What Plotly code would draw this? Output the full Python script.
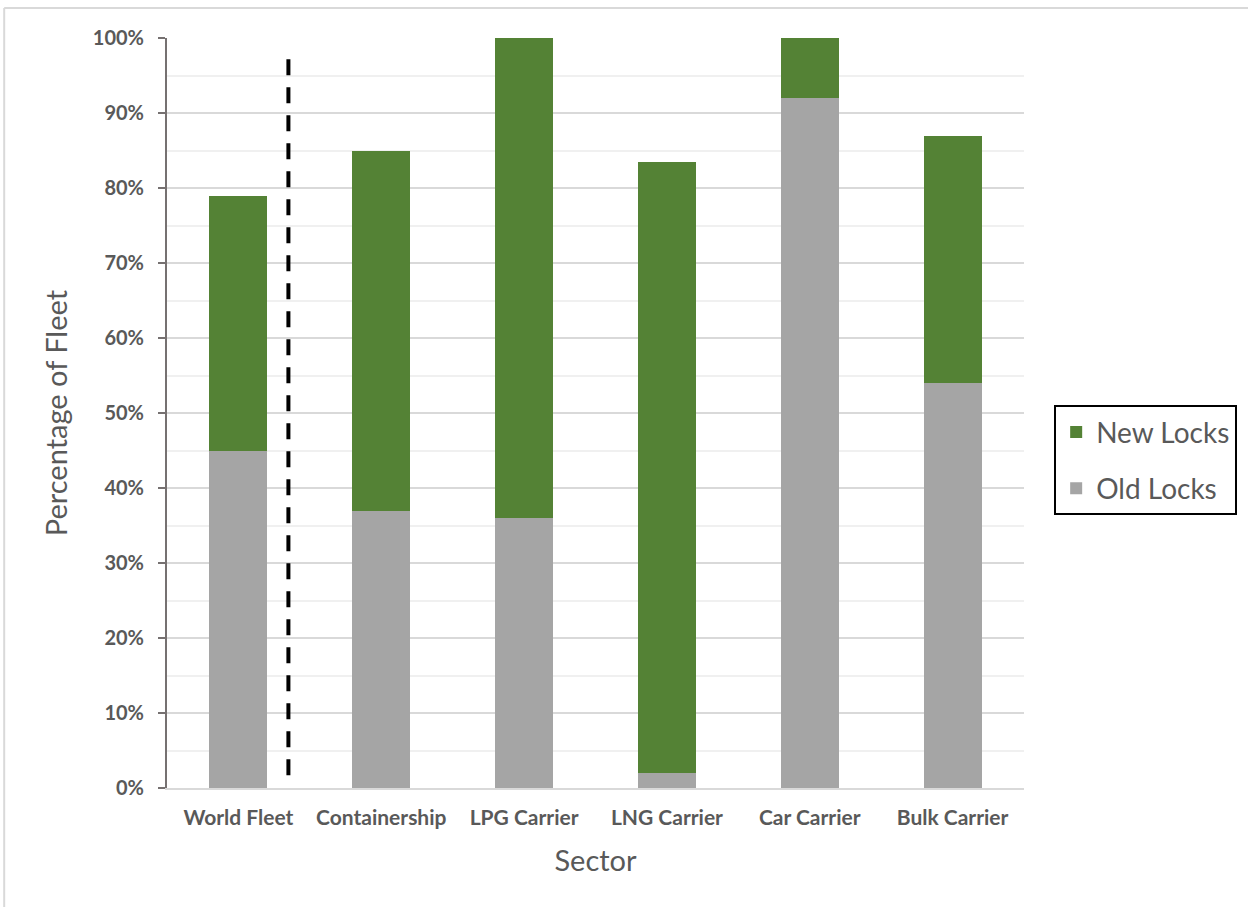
import plotly.graph_objects as go

categories = ["World Fleet", "Containership", "LPG Carrier", "LNG Carrier", "Car Carrier", "Bulk Carrier"]
old_locks = [45, 37, 36, 2, 92, 54]
new_locks = [34, 48, 64, 81.5, 8, 33]
y_ticks = list(range(0, 101, 10))
y_tick_labels = [f"{v}%" for v in y_ticks]

GREEN = "#548235"
GRAY = "#A5A5A5"
TEXT = "#595959"
FONT = "Lato"

fig = go.Figure()
fig.add_trace(go.Bar(x=categories, y=old_locks, name="Old Locks", marker_color=GRAY,
                     marker_line_width=0, legendgroup="old", legendrank=2))
fig.add_trace(go.Bar(x=categories, y=new_locks, name="New Locks", marker_color=GREEN,
                     marker_line_width=0, legendgroup="new", legendrank=1))

fig.update_layout(
    barmode="stack",
    bargap=0.595,
    width=1248, height=907,
    margin=dict(l=167, r=223, t=38, b=119),
    plot_bgcolor="white", paper_bgcolor="white",
    font=dict(family=FONT, color=TEXT),
    showlegend=True,
    legend=dict(
        x=1.034, y=0.437, xanchor="left", yanchor="middle",
        traceorder="grouped",
        bordercolor="black", borderwidth=2,
        font=dict(size=28, color=TEXT, family=FONT),
        itemsizing="constant",
        tracegroupgap=17,
    ),
)

fig.update_xaxes(
    type="category",
    showgrid=False,
    showline=True, linecolor="#d9d9d9", linewidth=2,
    tickfont=dict(size=21, color=TEXT, family=FONT, weight="bold"),
    ticklabelstandoff=10,
    title=dict(text="Sector", font=dict(size=29, color=TEXT, family=FONT), standoff=22),
    ticks="",
)
fig.update_yaxes(
    range=[0, 100],
    tickvals=y_ticks, ticktext=y_tick_labels,
    showgrid=True, gridcolor="#d9d9d9", gridwidth=2,
    minor=dict(dtick=5, showgrid=True, gridcolor="#f0f0f0", gridwidth=2),
    showline=True, linecolor="#767171", linewidth=2,
    ticks="outside", ticklen=7, tickcolor="#767171", tickwidth=2,
    tickfont=dict(size=20, color=TEXT, family=FONT, weight="bold"),
    ticklabelstandoff=10,
    title=dict(text="Percentage of Fleet", font=dict(size=29, color=TEXT, family=FONT), standoff=17),
    zeroline=False,
)

# dashed separator between World Fleet and the sectors
fig.add_shape(type="line", xref="x", yref="y", x0=0.35, x1=0.35, y0=1.7, y1=97.3,
              line=dict(color="black", width=4, dash="16px,12px"))

# chart area border (top and left edges visible)
fig.add_shape(type="line", xref="paper", yref="paper", x0=-163/858, x1=1.3, y0=(788-8)/750, y1=(788-8)/750,
              line=dict(color="#d9d9d9", width=2))
fig.add_shape(type="line", xref="paper", yref="paper", x0=-163/858, x1=-163/858, y0=(788-8)/750, y1=-0.2,
              line=dict(color="#d9d9d9", width=2))

fig.write_html("out.html")
